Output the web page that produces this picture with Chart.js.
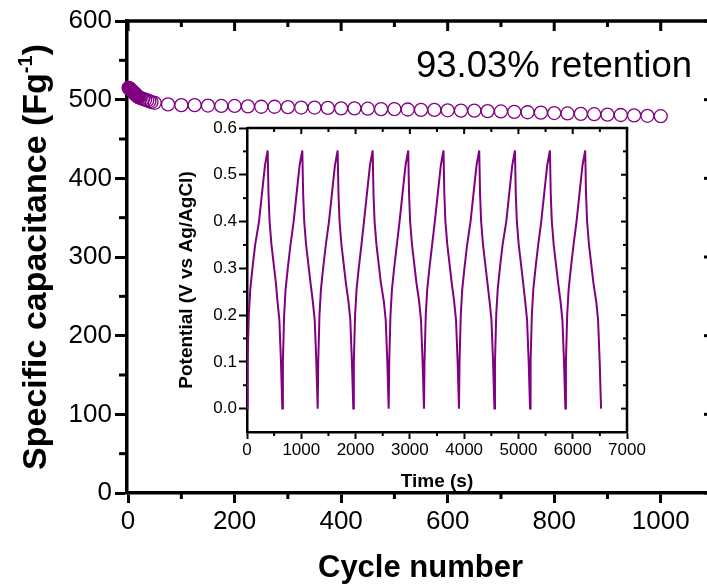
<!DOCTYPE html>
<html>
<head>
<meta charset="utf-8">
<script src="https://cdn.jsdelivr.net/npm/chart.js@4.4.1/dist/chart.umd.min.js"></script>
<style>
    html, body { margin: 0; padding: 0; background: #fff; overflow: hidden; }
    body { width: 707px; height: 587px; position: relative; }
    #cycling { position: absolute; left: 0; top: 0; }
    #gcd { position: absolute; left: 160px; top: 110px; }
</style>
</head>
<body>
<canvas id="cycling" width="740" height="587"></canvas>
<canvas id="gcd" width="490" height="390"></canvas>
<script>
// ---- cycling stability (main plot) ----
const cycleNumber = [
    1, 2, 3, 4, 5, 6, 7, 8, 9, 10, 11, 12, 13, 14, 15, 16, 17, 18, 19, 20,
    24, 28, 32, 36, 40, 44,
    50, 75, 100, 125, 150, 175, 200, 225, 250, 275, 300, 325, 350, 375, 400,
    425, 450, 475, 500, 525, 550, 575, 600, 625, 650, 675, 700, 725, 750,
    775, 800, 825, 850, 875, 900, 925, 950, 975, 1000,
];
const capacitance = [
    515, 514.5, 514, 513.5, 513, 512, 511.5, 511, 510, 509.5,
    509, 508, 507.5, 507, 506, 505.5, 505, 504, 503.5, 503,
    502, 501, 500, 499, 498, 497,
    496, 494, 493, 493, 492.5, 492, 492, 491.5, 491, 491, 490.5, 490, 490, 489.5, 489,
    489, 488.5, 488, 488, 487.5, 487, 487, 486.5, 486, 486, 485.5, 485, 484.5, 484,
    483.5, 483, 482.5, 482, 481.5, 481, 480.5, 480, 479.5, 479,
];
const cycleTicks = [0, 200, 400, 600, 800, 1000];
const capTicks = [0, 100, 200, 300, 400, 500, 600];

// ---- charge/discharge curves (inset), one line per cycle ----
const timeS = [
    0, 10, 33, 60, 100, 150, 221, 276, 331, 381, 396, 416, 451, 491, 531, 561, 596, 626, 651,
    661, 684, 711, 751, 801, 859, 914, 969, 1019, 1034, 1054, 1089, 1129, 1169, 1212, 1247, 1277, 1302,
    1312, 1335, 1362, 1402, 1452, 1510, 1565, 1620, 1670, 1685, 1705, 1740, 1780, 1820, 1868, 1903, 1933, 1958,
    1968, 1991, 2018, 2058, 2108, 2155, 2210, 2265, 2315, 2330, 2350, 2385, 2425, 2465, 2520, 2555, 2585, 2610,
    2620, 2643, 2670, 2710, 2760, 2810, 2865, 2920, 2970, 2985, 3005, 3040, 3080, 3120, 3170, 3205, 3235, 3260,
    3270, 3293, 3320, 3360, 3410, 3460, 3515, 3570, 3620, 3635, 3655, 3690, 3730, 3770, 3815, 3850, 3880, 3905,
    3915, 3938, 3965, 4005, 4055, 4118, 4173, 4228, 4278, 4293, 4313, 4348, 4388, 4428, 4468, 4503, 4533, 4558,
    4568, 4591, 4618, 4658, 4708, 4776, 4831, 4886, 4936, 4951, 4971, 5006, 5046, 5086, 5124, 5159, 5189, 5214,
    5224, 5247, 5274, 5314, 5364, 5420, 5475, 5530, 5580, 5595, 5615, 5650, 5690, 5730, 5775, 5810, 5840, 5865,
    5875, 5898, 5925, 5965, 6015, 6070, 6125, 6180, 6230, 6245, 6265, 6300, 6340, 6380, 6432, 6467, 6497, 6522,
];
const potentialV = [
    0.00, 0.10, 0.20, 0.255, 0.30, 0.35, 0.40, 0.46, 0.52, 0.552, 0.46, 0.40, 0.35, 0.31, 0.27, 0.23, 0.19, 0.10, 0.00,
    0.10, 0.20, 0.255, 0.30, 0.35, 0.40, 0.46, 0.52, 0.552, 0.46, 0.40, 0.35, 0.31, 0.27, 0.23, 0.19, 0.10, 0.00,
    0.10, 0.20, 0.255, 0.30, 0.35, 0.40, 0.46, 0.52, 0.552, 0.46, 0.40, 0.35, 0.31, 0.27, 0.23, 0.19, 0.10, 0.00,
    0.10, 0.20, 0.255, 0.30, 0.35, 0.40, 0.46, 0.52, 0.552, 0.46, 0.40, 0.35, 0.31, 0.27, 0.23, 0.19, 0.10, 0.00,
    0.10, 0.20, 0.255, 0.30, 0.35, 0.40, 0.46, 0.52, 0.552, 0.46, 0.40, 0.35, 0.31, 0.27, 0.23, 0.19, 0.10, 0.00,
    0.10, 0.20, 0.255, 0.30, 0.35, 0.40, 0.46, 0.52, 0.552, 0.46, 0.40, 0.35, 0.31, 0.27, 0.23, 0.19, 0.10, 0.00,
    0.10, 0.20, 0.255, 0.30, 0.35, 0.40, 0.46, 0.52, 0.552, 0.46, 0.40, 0.35, 0.31, 0.27, 0.23, 0.19, 0.10, 0.00,
    0.10, 0.20, 0.255, 0.30, 0.35, 0.40, 0.46, 0.52, 0.552, 0.46, 0.40, 0.35, 0.31, 0.27, 0.23, 0.19, 0.10, 0.00,
    0.10, 0.20, 0.255, 0.30, 0.35, 0.40, 0.46, 0.52, 0.552, 0.46, 0.40, 0.35, 0.31, 0.27, 0.23, 0.19, 0.10, 0.00,
    0.10, 0.20, 0.255, 0.30, 0.35, 0.40, 0.46, 0.52, 0.552, 0.46, 0.40, 0.35, 0.31, 0.27, 0.23, 0.19, 0.10, 0.00,
];
const timeTicks = [0, 1000, 2000, 3000, 4000, 5000, 6000, 7000];
const potentialTicks = [0, 0.1, 0.2, 0.3, 0.4, 0.5, 0.6];

const PURPLE = "#800080";
const FONT = '"Liberation Sans", Arial, Helvetica, sans-serif';
Chart.defaults.font.family = FONT;
Chart.defaults.color = "#000";

function line(ctx, x1, y1, x2, y2, w) {
    ctx.beginPath();
    ctx.lineWidth = w;
    ctx.moveTo(x1, y1);
    ctx.lineTo(x2, y2);
    ctx.stroke();
}
// minor ticks sit half way between the major ones
function between(list) {
    const out = [];
    for (let i = 0; i < list.length - 1; i++) out.push((list[i] + list[i + 1]) / 2);
    return out;
}

// top/right frame with inward ticks, plus outward minor ticks on left/bottom
function framePlugin(id, xMajor, yMajor, s) {
    return {
        id: id,
        beforeDatasetsDraw(chart) {
            const { ctx, chartArea: a, scales } = chart;
            const x = scales.x, y = scales.y;
            ctx.save();
            ctx.strokeStyle = "#000";
            line(ctx, a.left, a.top, a.right + s.frameW / 2, a.top, s.frameW);
            line(ctx, a.right, a.top, a.right, a.bottom, s.frameW);
            xMajor.forEach((v) => {
                const p = x.getPixelForValue(v);
                line(ctx, p, a.top, p, a.top + s.inMajor, s.tickW);
            });
            between(xMajor).forEach((v) => {
                const p = x.getPixelForValue(v);
                line(ctx, p, a.top, p, a.top + s.inMinor, s.tickW);
                line(ctx, p, a.bottom, p, a.bottom + s.outMinorX, s.tickW);
            });
            yMajor.forEach((v) => {
                const p = y.getPixelForValue(v);
                line(ctx, a.right, p, a.right - s.inMajor, p, s.tickW);
            });
            between(yMajor).forEach((v) => {
                const p = y.getPixelForValue(v);
                line(ctx, a.right, p, a.right - s.inMinor, p, s.tickW);
                line(ctx, a.left, p, a.left - s.outMinorY, p, s.tickW);
            });
            ctx.restore();
        },
    };
}

// y title with superscript and the retention note
const mainLabels = {
    id: "mainLabels",
    afterDraw(chart) {
        const { ctx, chartArea: a } = chart;
        ctx.save();
        ctx.fillStyle = "#000";
        const big = "bold 34px " + FONT;
        const sup = "bold 20px " + FONT;
        const p1 = "Specific capacitance (Fg", p2 = "-1", p3 = ")";
        ctx.font = big;
        const w1 = ctx.measureText(p1).width, w3 = ctx.measureText(p3).width;
        ctx.font = sup;
        const w2 = ctx.measureText(p2).width;
        ctx.translate(46, (a.top + a.bottom) / 2);
        ctx.rotate(-Math.PI / 2);
        ctx.textBaseline = "alphabetic";
        let cx = -(w1 + w2 + w3) / 2;
        ctx.font = big;
        ctx.fillText(p1, cx, 0);
        cx += w1;
        ctx.font = sup;
        ctx.fillText(p2, cx, -14);
        cx += w2;
        ctx.font = big;
        ctx.fillText(p3, cx, 0);
        ctx.restore();

        ctx.save();
        ctx.fillStyle = "#000";
        ctx.font = "36.5px " + FONT;
        ctx.textAlign = "right";
        ctx.textBaseline = "alphabetic";
        ctx.fillText("93.03% retention", 692, 77);
        ctx.restore();
    },
};

new Chart(document.getElementById("cycling"), {
    type: "scatter",
    data: {
        datasets: [
            {
                data: cycleNumber.map((c, i) => ({ x: c, y: capacitance[i] })),
                pointStyle: "circle",
                pointRadius: 6.5,
                pointBorderWidth: 1.3,
                pointBorderColor: PURPLE,
                pointBackgroundColor: "rgba(255,255,255,0)",
                showLine: false,
                clip: false,
            },
        ],
    },
    options: {
        responsive: false,
        animation: false,
        events: [],
        layout: { padding: { top: 21, right: 26, bottom: 0, left: 0 } },
        plugins: { legend: { display: false }, tooltip: { enabled: false } },
        scales: {
            x: {
                type: "linear",
                min: -2,
                max: 1100,
                afterBuildTicks: (scale) => {
                    scale.ticks = cycleTicks.map((v) => ({ value: v }));
                },
                afterFit: (scale) => {
                    scale.height = 94;
                },
                border: { display: true, color: "#000", width: 3.5 },
                grid: { drawOnChartArea: false, tickLength: 10, tickWidth: 3, tickColor: "#000" },
                ticks: {
                    autoSkip: false,
                    maxRotation: 0,
                    padding: 3,
                    color: "#000",
                    font: { size: 26 },
                    callback: (v) => String(v),
                },
                title: {
                    display: true,
                    text: "Cycle number",
                    color: "#000",
                    font: { size: 31, weight: "bold" },
                    padding: { top: 0, bottom: 0 },
                },
            },
            y: {
                type: "linear",
                min: 0,
                max: 600,
                afterBuildTicks: (scale) => {
                    scale.ticks = capTicks.map((v) => ({ value: v }));
                },
                afterFit: (scale) => {
                    scale.width = 127;
                },
                border: { display: true, color: "#000", width: 3.5 },
                grid: { drawOnChartArea: false, tickLength: 12, tickWidth: 3, tickColor: "#000" },
                ticks: {
                    autoSkip: false,
                    padding: 3,
                    color: "#000",
                    font: { size: 26 },
                    callback: (v) => String(v),
                },
            },
        },
    },
    plugins: [
        framePlugin("mainFrame", cycleTicks, capTicks, {
            frameW: 3.5, tickW: 3, inMajor: 10, inMinor: 6, outMinorX: 6, outMinorY: 8,
        }),
        mainLabels,
    ],
});

new Chart(document.getElementById("gcd"), {
    type: "scatter",
    data: {
        datasets: [
            {
                data: timeS.map((t, i) => ({ x: t, y: potentialV[i] })),
                showLine: true,
                borderColor: PURPLE,
                borderWidth: 2,
                pointRadius: 0,
                tension: 0,
            },
        ],
    },
    options: {
        responsive: false,
        animation: false,
        events: [],
        layout: { padding: { top: 18, right: 23, bottom: 0, left: 0 } },
        plugins: { legend: { display: false }, tooltip: { enabled: false } },
        scales: {
            x: {
                type: "linear",
                min: 0,
                max: 7000,
                afterBuildTicks: (scale) => {
                    scale.ticks = timeTicks.map((v) => ({ value: v }));
                },
                afterFit: (scale) => {
                    scale.height = 68;
                },
                border: { display: true, color: "#000", width: 2.5 },
                grid: { drawOnChartArea: false, tickLength: 7, tickWidth: 2, tickColor: "#000" },
                ticks: {
                    autoSkip: false,
                    maxRotation: 0,
                    padding: 1,
                    color: "#000",
                    font: { size: 17 },
                    callback: (v) => String(v),
                },
                title: {
                    display: true,
                    text: "Time (s)",
                    color: "#000",
                    font: { size: 19, weight: "bold" },
                    padding: { top: 0, bottom: 7 },
                },
            },
            y: {
                type: "linear",
                min: -0.05,
                max: 0.6,
                afterBuildTicks: (scale) => {
                    scale.ticks = potentialTicks.map((v) => ({ value: v }));
                },
                afterFit: (scale) => {
                    scale.width = 87;
                },
                border: { display: true, color: "#000", width: 2.5 },
                grid: { drawOnChartArea: false, tickLength: 8, tickWidth: 2, tickColor: "#000" },
                ticks: {
                    autoSkip: false,
                    padding: 2,
                    color: "#000",
                    font: { size: 17 },
                    callback: (v) => Number(v).toFixed(1),
                },
                title: {
                    display: true,
                    text: "Potential (V vs Ag/AgCl)",
                    color: "#000",
                    font: { size: 19, weight: "bold" },
                    padding: { top: 15, bottom: 0 },
                },
            },
        },
    },
    plugins: [
        framePlugin("insetFrame", timeTicks, potentialTicks, {
            frameW: 2.5, tickW: 2, inMajor: 6, inMinor: 4, outMinorX: 4, outMinorY: 4,
        }),
    ],
});
</script>
</body>
</html>
